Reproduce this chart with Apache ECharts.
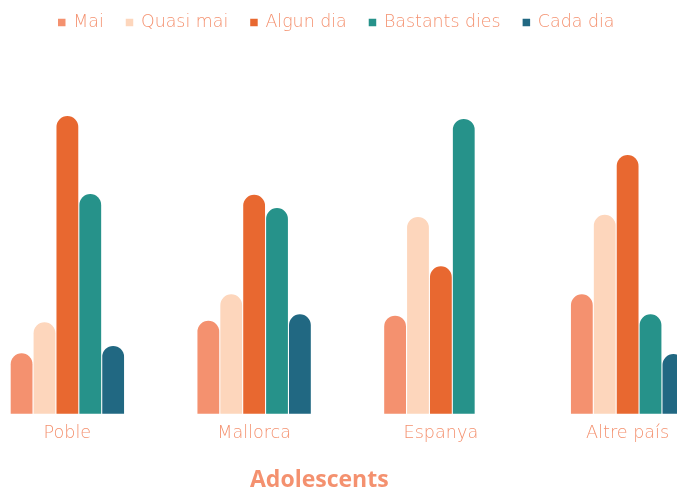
<!DOCTYPE html>
<html>
<head>
<meta charset="utf-8">
<script src="https://cdn.jsdelivr.net/npm/echarts@6/dist/echarts.min.js"></script>
<style>
  html, body { margin: 0; padding: 0; background: #fff; overflow: hidden; }
  /* the plot runs past both edges of the picture, so the canvas is wider and shifted left */
  #chart { width: 747px; height: 491px; margin-left: -26px; }
</style>
</head>
<body>
<div id="chart"></div>
<script>
// Chart data (% per origin, each group sums to 100)
const categories = ['Poble', 'Mallorca', 'Espanya', 'Altre país'];
const seriesNames = ['Mai', 'Quasi mai', 'Algun dia', 'Bastants dies', 'Cada dia'];
const mai = [8.2, 12.6, 13.3, 16.2];
const quasiMai = [12.4, 16.2, 26.7, 27.0];
const algunDia = [40.4, 29.7, 20.0, 35.1];
const bastantsDies = [29.8, 27.9, 40.0, 13.5];
const cadaDia = [9.2, 13.5, 0, 8.1];

const colors = ['#f4916f', '#fdd6bc', '#e86830', '#26928a', '#216882'];
const textColor = '#f4916f';
const font = '"DejaVu Sans", sans-serif';
const shift = 26; // canvas offset

const values = [mai, quasiMai, algunDia, bastantsDies, cadaDia];

var chart = echarts.init(document.getElementById('chart'));

option = {
  color: colors,
  title: {
    text: 'Adolescents',
    left: 245 + shift,
    top: 464,
    textStyle: {
      color: textColor,
      fontFamily: '"Open Sans", sans-serif',
      fontWeight: 'bold',
      fontSize: 23
    }
  },
  legend: {
    data: seriesNames,
    left: 53 + shift,
    top: 9,
    icon: 'path://M0,0H10V10H0Z',
    itemWidth: 13,
    itemHeight: 7.5,
    itemGap: 22,
    textStyle: {
      color: textColor,
      fontFamily: font,
      fontWeight: 200,
      fontSize: 17.4
    }
  },
  grid: {
    left: 0,
    right: 0,
    top: 45.2,
    bottom: 77.3
  },
  xAxis: {
    type: 'category',
    data: categories,
    axisLine: { show: false },
    axisTick: { show: false },
    axisLabel: {
      margin: 11,
      color: textColor,
      fontFamily: font,
      fontWeight: 200,
      fontSize: 17.6
    }
  },
  yAxis: {
    type: 'value',
    min: 0,
    max: 50,
    show: false,
    splitLine: { show: false }
  },
  series: seriesNames.map(function (name, i) {
    return {
      name: name,
      type: 'bar',
      data: values[i],
      barWidth: 21.8,
      barGap: '5%',
      itemStyle: {
        borderRadius: [11, 11, 0, 0]
      }
    };
  })
};

chart.setOption(option);
</script>
</body>
</html>
